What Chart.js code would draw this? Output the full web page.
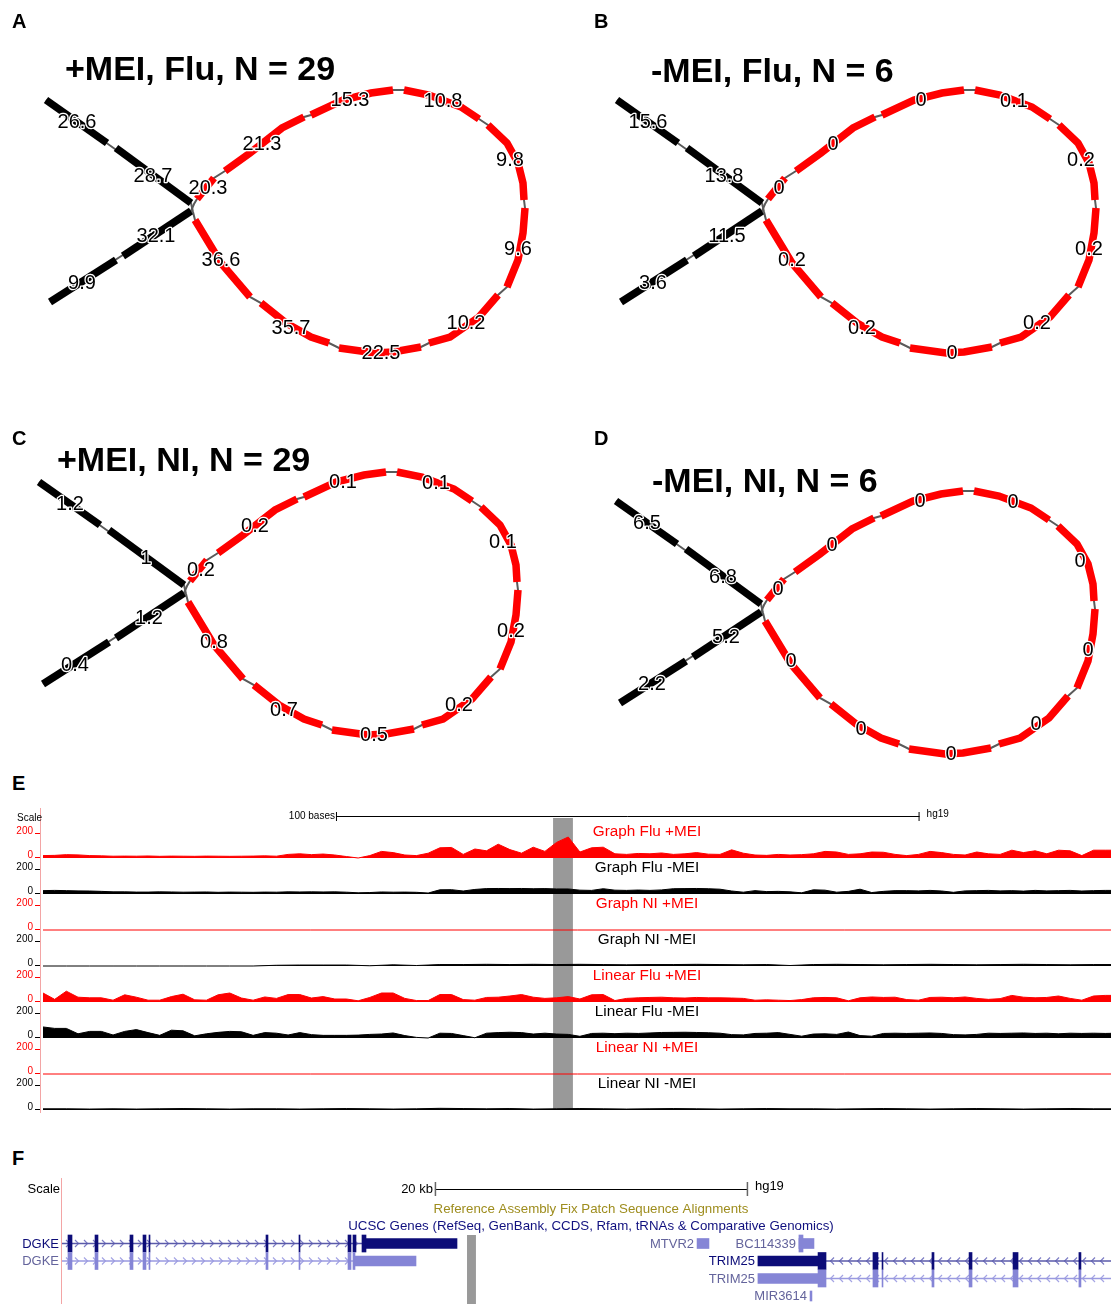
<!DOCTYPE html>
<html lang="en">
<head>
<meta charset="utf-8">
<title>MEI coverage graphs</title>
<script src="https://cdn.jsdelivr.net/npm/chart.js@4.4.1/dist/chart.umd.min.js"></script>
<style>
  html, body { margin:0; padding:0; background:#fff; overflow:hidden; }
  #page { position:relative; width:1111px; height:1304px; overflow:hidden; background:#fff;
          font-family:"Liberation Sans", Arial, Helvetica, sans-serif; color:#000; }
  #page canvas { position:absolute; }
  .letter { position:absolute; font-weight:bold; font-size:20px; line-height:20px; white-space:nowrap; }
  .ptitle { position:absolute; font-weight:bold; font-size:34px; line-height:34px; white-space:nowrap; }
</style>
</head>
<body>
<div id="page"></div>
<script>
// ===================== DATA =====================
// Panels A–D: titles and edge values (arms: upper-outer, upper-inner, lower-inner, lower-outer)
const panelLetters = ["A", "B", "C", "D"];
const panelTitles  = ["+MEI, Flu, N = 29", "-MEI, Flu, N = 6", "+MEI, NI, N = 29", "-MEI, NI, N = 6"];
const armValuesA  = [26.6, 28.7, 32.1, 9.9];
const loopValuesA = [20.3, 21.3, 15.3, 10.8, 9.8, 9.6, 10.2, 22.5, 35.7, 36.6];
const armValuesB  = [15.6, 13.8, 11.5, 3.6];
const loopValuesB = [0, 0, 0, 0.1, 0.2, 0.2, 0.2, 0, 0.2, 0.2];
const armValuesC  = [1.2, 1, 1.2, 0.4];
const loopValuesC = [0.2, 0.2, 0.1, 0.1, 0.1, 0.2, 0.2, 0.5, 0.7, 0.8];
const armValuesD  = [6.5, 6.8, 5.2, 2.2];
const loopValuesD = [0, 0, 0, 0, 0, 0, 0, 0, 0, 0];

// Graph layout (node coordinates in layout units, shared by the four panels)
const armSegs = [
  [[46,100],[107,143]],
  [[116,148],[191,203]],
  [[50,302],[116,260]],
  [[123,256],[191,211]]
];
const loopSegs = [
  [[197,199],[214,178]],
  [[225,171],[250,153],[282,128],[304,117]],
  [[311,115],[343,100],[371,93],[393,90]],
  [[404,90],[429,95],[461,107],[479,119]],
  [[488,125],[507,143],[518,163],[523,183],[524,200]],
  [[525,208],[523,233],[518,260],[507,287]],
  [[498,295],[479,317],[450,337],[429,343]],
  [[421,347],[393,352],[375,353],[339,348]],
  [[329,343],[311,337],[286,323],[261,303]],
  [[250,297],[221,263],[195,220]]
];
const upperArmPath = [[46,100],[191,203],[193,212],[195,220]];
const lowerArmPath = [[50,302],[191,211],[194,204],[197,199]];
const armLabelPos  = [[77,122],[153,176],[156,236],[82,283]];
const loopLabelPos = [[208,188],[262,144],[350,100],[443,101],[510,160],[518,249],[466,323],[381,353],[291,328],[221,260]];

// Panel E: coverage tracks (read-depth values, scale 0–200)
const trackNames = ["Graph Flu +MEI", "Graph Flu -MEI", "Graph NI +MEI", "Graph NI -MEI",
                    "Linear Flu +MEI", "Linear Flu -MEI", "Linear NI +MEI", "Linear NI -MEI"];
const trackIsPlus = [true, false, true, false, true, false, true, false];
const trackTicks = [0, 200];
const basesSpan = 184;                 // bases covered by each coverage array
const highlightBases = [87.4, 90.8];   // highlighted MEI position
const scaleBarBases = [50.2, 150.2];   // "100 bases" ruler
const covGraphFluPlus = [
  20,22,28,26,20,18,15,16,15,17,14,16,15,14,16,15,14,15,16,18,15,
  30,35,28,33,25,12,0,20,55,45,25,20,40,85,88,30,75,60,115,70,
  40,90,55,130,175,50,85,90,35,30,38,35,42,30,35,45,32,30,68,40,
  25,22,30,25,28,35,55,50,30,35,50,48,30,20,30,55,45,30,25,50,
  35,30,65,45,60,35,65,60,20,65,65,65];
const covGraphFluMinus = [
  28,30,28,26,25,22,18,18,16,16,18,17,15,16,17,14,16,15,14,16,15,
  18,17,18,17,18,15,10,12,17,15,16,14,8,35,36,25,38,45,46,45,
  46,44,45,42,42,32,30,44,32,30,33,30,34,44,45,46,44,40,25,15,
  28,20,22,18,10,35,32,15,22,40,12,22,28,28,26,30,25,14,26,28,
  30,26,28,24,30,26,28,30,25,28,30,30];
const covGraphNIPlus = [0, 0];
const covGraphNIMinus = [
  0,0,0,0,0,0,0,0,0,0,6,8,8,8,2,10,4,12,12,14,12,14,12,14,12,10,12,12,14,12,
  10,12,4,12,14,12,10,12,14,12,10,12,14,12,10,12,12];
const covLinearFluPlus = [
  75,22,90,40,35,35,15,60,40,15,15,45,65,18,15,60,75,33,15,42,30,
  62,62,33,45,25,25,10,38,75,75,30,12,12,62,62,20,15,38,40,50,
  62,40,30,35,45,25,60,62,12,30,35,38,40,35,33,38,35,35,33,30,
  15,18,15,12,20,35,38,35,10,35,42,38,40,20,15,38,40,35,42,30,
  22,28,55,40,35,38,50,30,15,50,55,55];
const covLinearFluMinus = [
  92,80,80,35,55,55,25,55,70,45,22,65,60,18,35,47,55,52,22,45,40,
  25,45,28,22,22,22,24,30,33,42,20,5,0,40,38,20,2,40,45,48,
  45,33,40,33,30,14,38,40,36,40,38,42,46,47,48,46,44,40,28,26,
  38,40,45,30,15,33,35,30,50,20,15,38,40,38,40,42,38,28,26,30,
  40,38,40,42,38,40,35,40,38,40,38,40];
const covLinearNIPlus = [0, 0];
const covLinearNIMinus = [
  10,10,8,10,8,10,12,10,8,10,10,8,10,12,10,8,10,14,12,10,12,8,10,12,10,8,10,12,10,8,
  10,12,10,10,8,10,12,10,8,10,12,10,8,10,12,10,10];

// Panel F: gene models (positions in kb from the left edge of the window)
const geneNames   = ["DGKE", "DGKE", "MTVR2", "BC114339", "TRIM25", "TRIM25", "MIR3614"];
const geneRows    = [0, 1, 0, 0, 1, 2, 3];
const geneStrand  = ["+", "+", "", "", "-", "-", ""];
const geneDark    = [true, false, false, false, true, false, false];
const geneIntrons = [[0, 19.17], [0, 18.72], null, null, [48.82, 67.5], [48.82, 67.5], null];
const dgkeExons1  = [[0.383,0.639],[2.109,2.300],[4.345,4.537],[5.176,5.367],[5.559,5.623],[13.035,13.163],
                     [15.144,15.208],[18.275,18.466],[18.594,18.786],[19.169,19.425]];
const dgkeExons2  = [[0.383,0.639],[2.109,2.300],[4.345,4.537],[5.176,5.367],[5.559,5.623],[13.035,13.163],
                     [15.144,15.208],[18.275,18.466],[18.594,18.722]];
const trimExons   = [[48.31,48.82],[51.82,52.14],[52.40,52.46],[55.59,55.72],[57.96,58.15],[60.77,61.09],[64.98,65.11]];
const geneExons   = [dgkeExons1, dgkeExons2, [], [[47.09,47.35]], trimExons, trimExons, []];
const geneUtrs    = [[[19.425,25.24]], [[18.72,22.62]], [[40.58,41.34]], [[47.09,48.05]],
                     [[44.47,48.31]], [[44.47,48.31]], [[47.80,47.92]]];
const fHighlightKb = [25.88, 26.45];
const fScaleBarKb  = [23.83, 43.83];
const fTrackTitles = ["Reference Assembly Fix Patch Sequence Alignments",
                      "UCSC Genes (RefSeq, GenBank, CCDS, Rfam, tRNAs & Comparative Genomics)"];

// ===================== LAYOUT / STYLE =====================
const FONT = '"Liberation Sans", Arial, Helvetica, sans-serif';
Chart.defaults.font.family = FONT;
const RED = '#ff0000';
const armValues  = [armValuesA, armValuesB, armValuesC, armValuesD];
const loopValues = [loopValuesA, loopValuesB, loopValuesC, loopValuesD];
const trackData  = [covGraphFluPlus, covGraphFluMinus, covGraphNIPlus, covGraphNIMinus,
                    covLinearFluPlus, covLinearFluMinus, covLinearNIPlus, covLinearNIMinus];
const panelPlacement = [[0,0],[571,0],[-7,382],[570,401]];
const titlePlacement = [[65,51],[651,53],[57,442],[652,463]];
const letterPlacement = [[12,11],[594,11],[12,428],[594,428],[12,773],[12,1148]];

const page = document.getElementById('page');
function addCanvas(left, top, w, h) {
  const c = document.createElement('canvas');
  c.width = w; c.height = h;
  c.style.left = left + 'px'; c.style.top = top + 'px';
  c.style.width = w + 'px'; c.style.height = h + 'px';
  page.appendChild(c);
  return c;
}
function addText(cls, txt, left, top) {
  const d = document.createElement('div');
  d.className = cls; d.textContent = txt;
  d.style.left = left + 'px'; d.style.top = top + 'px';
  page.appendChild(d);
}
const baseOptions = () => ({
  responsive: false, animation: false, events: [],
  plugins: { legend: { display: false }, tooltip: { enabled: false }, title: { display: false } }
});

// ===================== PANELS A–D =====================
function lineDs(pts, color, width, order) {
  return { type: 'line', data: pts.map(p => ({ x: p[0], y: p[1] })), showLine: true, fill: false,
    borderColor: color, backgroundColor: color, borderWidth: width, pointRadius: 0, pointHoverRadius: 0,
    tension: 0, borderCapStyle: 'butt', borderJoinStyle: 'miter', order };
}
function panelChart(idx) {
  const [left, top] = panelPlacement[idx];
  const canvas = addCanvas(left, top, 540, 390);
  const datasets = [];
  [upperArmPath, lowerArmPath, loopSegs.flat()].forEach(p => datasets.push(lineDs(p, '#5a5a5a', 2, 3)));
  armSegs.forEach(s => datasets.push(lineDs(s, '#000000', 7.5, 2)));
  loopSegs.forEach(s => datasets.push(lineDs(s, RED, 7.5, 1)));
  const labels = armValues[idx].map((v, i) => [String(v), armLabelPos[i]])
    .concat(loopValues[idx].map((v, i) => [String(v), loopLabelPos[i]]));
  const opts = baseOptions();
  opts.layout = { padding: 0 };
  opts.scales = {
    x: { type: 'linear', display: false, min: 0, max: 540, offset: false },
    y: { type: 'linear', display: false, min: 0, max: 390, reverse: true, offset: false }
  };
  new Chart(canvas, {
    type: 'scatter', data: { datasets }, options: opts,
    plugins: [{
      id: 'edgeLabels',
      afterDatasetsDraw(chart) {
        const { ctx } = chart, xs = chart.scales.x, ys = chart.scales.y;
        ctx.save();
        ctx.font = '20px ' + FONT;
        ctx.textAlign = 'center'; ctx.textBaseline = 'middle'; ctx.lineJoin = 'round';
        labels.forEach(([t, p]) => {
          const px = xs.getPixelForValue(p[0]), py = ys.getPixelForValue(p[1]);
          ctx.lineWidth = 2.5; ctx.strokeStyle = '#ffffff'; ctx.strokeText(t, px, py);
          ctx.fillStyle = '#000000'; ctx.fillText(t, px, py);
        });
        ctx.restore();
      }
    }]
  });
  addText('ptitle', panelTitles[idx], titlePlacement[idx][0], titlePlacement[idx][1]);
  addText('letter', panelLetters[idx], letterPlacement[idx][0], letterPlacement[idx][1]);
}
[0, 1, 2, 3].forEach(panelChart);

// ===================== PANEL E =====================
(function () {
  const canvas = addCanvas(0, 800, 1111, 315);
  const trackUnits = 300, nTracks = trackData.length;
  const scales = { x: { type: 'linear', display: false, min: 0, max: 183, offset: false } };
  const datasets = trackData.map((vals, k) => {
    const m = -(nTracks - 1 - k) * trackUnits;
    scales['y' + k] = { type: 'linear', display: false, min: m, max: m + nTracks * trackUnits, offset: false };
    const step = basesSpan / (vals.length - 1);
    const col = trackIsPlus[k] ? RED : '#000000';
    return { type: 'line', yAxisID: 'y' + k, data: vals.map((v, i) => ({ x: i * step, y: v })),
      borderColor: col, backgroundColor: col, borderWidth: 1, fill: 'origin',
      pointRadius: 0, pointHoverRadius: 0, tension: 0 };
  });
  const opts = baseOptions();
  opts.layout = { padding: { left: 43, right: 0, top: 22, bottom: 5 } };
  opts.scales = scales;
  new Chart(canvas, {
    type: 'line', data: { datasets }, options: opts,
    plugins: [{
      id: 'browserE',
      beforeDatasetsDraw(chart) {
        const { ctx, chartArea: a } = chart, xs = chart.scales.x;
        ctx.save();
        const h0 = xs.getPixelForValue(highlightBases[0]), h1 = xs.getPixelForValue(highlightBases[1]);
        ctx.fillStyle = '#999999';
        ctx.fillRect(h0, a.top - 4, h1 - h0, a.bottom - a.top + 4);
        ctx.strokeStyle = '#f3a5a5'; ctx.lineWidth = 1;
        ctx.beginPath(); ctx.moveTo(a.left - 2.5, a.top - 14); ctx.lineTo(a.left - 2.5, a.bottom + 3); ctx.stroke();
        ctx.restore();
      },
      afterDatasetsDraw(chart) {
        const { ctx, chartArea: a } = chart, xs = chart.scales.x;
        ctx.save();
        // ruler
        ctx.fillStyle = '#000'; ctx.strokeStyle = '#000'; ctx.lineWidth = 1;
        ctx.font = '10px ' + FONT; ctx.textBaseline = 'middle';
        ctx.textAlign = 'right'; ctx.fillText('Scale', a.left - 1, a.top - 4);
        const s0 = xs.getPixelForValue(scaleBarBases[0]), s1 = xs.getPixelForValue(scaleBarBases[1]);
        const ry = a.top - 5.5;
        ctx.beginPath();
        ctx.moveTo(s0, ry); ctx.lineTo(s1, ry);
        ctx.moveTo(s0 + 0.5, ry - 4.5); ctx.lineTo(s0 + 0.5, ry + 4.5);
        ctx.moveTo(s1 - 0.5, ry - 4.5); ctx.lineTo(s1 - 0.5, ry + 4.5);
        ctx.stroke();
        ctx.fillText('100 bases', s0 - 1, ry);
        ctx.textAlign = 'left'; ctx.fillText('hg19', s1 + 7, ry - 2);
        // track ticks and names
        trackData.forEach((_, k) => {
          const ys = chart.scales['y' + k];
          const col = trackIsPlus[k] ? RED : '#000000';
          ctx.fillStyle = col; ctx.strokeStyle = col;
          ctx.font = '10px ' + FONT; ctx.textAlign = 'right'; ctx.textBaseline = 'alphabetic';
          trackTicks.forEach(t => {
            const py = Math.round(ys.getPixelForValue(t)) - 0.5;
            ctx.fillText(String(t), a.left - 10, py + 0.5);
            ctx.beginPath(); ctx.moveTo(a.left - 8, py); ctx.lineTo(a.left - 3, py); ctx.stroke();
          });
          ctx.font = '15.3px ' + FONT; ctx.textAlign = 'center'; ctx.textBaseline = 'middle';
          ctx.fillText(trackNames[k], xs.getPixelForValue(103.5), ys.getPixelForValue(215));
        });
        ctx.restore();
      }
    }]
  });
  addText('letter', 'E', letterPlacement[4][0], letterPlacement[4][1]);
})();

// ===================== PANEL F =====================
(function () {
  const canvas = addCanvas(0, 1170, 1111, 134);
  const DARK = '#0c0c78', LIGHT = '#8585d6';
  const bar = (color, thick) => ({ type: 'bar', indexAxis: 'y', grouped: false, barThickness: thick,
    backgroundColor: color, borderWidth: 0, order: 1, data: [] });
  const tallDark = bar(DARK, 17), tallLight = bar(LIGHT, 17), utrDark = bar(DARK, 10), utrLight = bar(LIGHT, 10);
  const introns = [];
  geneNames.forEach((n, g) => {
    const row = geneRows[g];
    geneExons[g].forEach(e => (geneDark[g] ? tallDark : tallLight).data.push({ x: [e[0], e[1]], y: row }));
    geneUtrs[g].forEach(e => (geneDark[g] ? utrDark : utrLight).data.push({ x: [e[0], e[1]], y: row }));
    if (geneIntrons[g]) {
      introns.push({ type: 'line', data: [{ x: geneIntrons[g][0], y: row }, { x: geneIntrons[g][1], y: row }],
        borderColor: geneDark[g] ? '#5a5aaa' : '#9a9ae0', borderWidth: 1.5, pointRadius: 0,
        pointHoverRadius: 0, fill: false, tension: 0, order: 2 });
    }
  });
  const opts = baseOptions();
  opts.layout = { padding: { left: 62, right: 0, top: 0, bottom: 0 } };
  opts.scales = {
    x: { type: 'linear', display: false, min: 0, max: 67.03, offset: false },
    y: { type: 'linear', display: false, min: -4.2, max: 3.457, reverse: true, offset: false }
  };
  new Chart(canvas, {
    type: 'bar', data: { datasets: introns.concat([utrLight, utrDark, tallLight, tallDark]) }, options: opts,
    plugins: [{
      id: 'browserF',
      beforeDatasetsDraw(chart) {
        const { ctx, chartArea: a } = chart, xs = chart.scales.x, ys = chart.scales.y;
        ctx.save();
        const h0 = xs.getPixelForValue(fHighlightKb[0]), h1 = xs.getPixelForValue(fHighlightKb[1]);
        const ht = ys.getPixelForValue(-0.486);
        ctx.fillStyle = '#999999'; ctx.fillRect(h0, ht, h1 - h0, a.bottom - ht);
        ctx.strokeStyle = '#f3a5a5'; ctx.lineWidth = 1;
        ctx.beginPath(); ctx.moveTo(a.left - 0.5, ys.getPixelForValue(-3.74)); ctx.lineTo(a.left - 0.5, a.bottom); ctx.stroke();
        // strand chevrons
        ctx.beginPath(); ctx.rect(a.left, a.top, a.right - a.left, a.bottom - a.top); ctx.clip();
        geneNames.forEach((n, g) => {
          if (!geneIntrons[g]) return;
          const x0 = Math.max(xs.getPixelForValue(geneIntrons[g][0]), a.left);
          const x1 = Math.min(xs.getPixelForValue(geneIntrons[g][1]), a.right);
          const cy = ys.getPixelForValue(geneRows[g]);
          const dir = geneStrand[g] === '-' ? -1 : 1;
          ctx.strokeStyle = geneDark[g] ? '#7c7cc4' : '#a4a4e4'; ctx.lineWidth = 1.2;
          ctx.beginPath();
          for (let cx = x0 + 6; cx < x1 - 2; cx += 9) {
            ctx.moveTo(cx - 2 * dir, cy - 3.5); ctx.lineTo(cx + 1.5 * dir, cy); ctx.lineTo(cx - 2 * dir, cy + 3.5);
          }
          ctx.stroke();
        });
        ctx.restore();
      },
      afterDatasetsDraw(chart) {
        const { ctx, chartArea: a } = chart, xs = chart.scales.x, ys = chart.scales.y;
        ctx.save();
        ctx.font = '13px ' + FONT; ctx.textBaseline = 'middle'; ctx.fillStyle = '#000'; ctx.strokeStyle = '#000';
        const sy = ys.getPixelForValue(-3.114);
        ctx.textAlign = 'right'; ctx.fillText('Scale', a.left - 2, sy);
        const s0 = xs.getPixelForValue(fScaleBarKb[0]), s1 = xs.getPixelForValue(fScaleBarKb[1]);
        ctx.fillText('20 kb', s0 - 2, sy);
        ctx.lineWidth = 1;
        ctx.beginPath(); ctx.moveTo(s0, Math.round(sy) + 0.5); ctx.lineTo(s1, Math.round(sy) + 0.5); ctx.stroke();
        ctx.strokeStyle = '#666'; ctx.lineWidth = 1.5;
        ctx.beginPath();
        ctx.moveTo(s0 + 0.5, sy - 7); ctx.lineTo(s0 + 0.5, sy + 7);
        ctx.moveTo(s1 - 0.5, sy - 7); ctx.lineTo(s1 - 0.5, sy + 7);
        ctx.stroke();
        ctx.textAlign = 'left'; ctx.fillStyle = '#000'; ctx.fillText('hg19', s1 + 7, ys.getPixelForValue(-3.29));
        ctx.textAlign = 'center';
        ctx.font = '13.3px ' + FONT;
        ctx.fillStyle = '#9e8d1e'; ctx.fillText(fTrackTitles[0], xs.getPixelForValue(33.8), ys.getPixelForValue(-1.971));
        ctx.fillStyle = '#10107f'; ctx.fillText(fTrackTitles[1], xs.getPixelForValue(33.8), ys.getPixelForValue(-1.0));
        ctx.font = '13px ' + FONT;
        ctx.textAlign = 'right';
        geneNames.forEach((n, g) => {
          let start = Infinity;
          geneExons[g].concat(geneUtrs[g]).forEach(e => { start = Math.min(start, e[0]); });
          if (geneIntrons[g]) start = Math.min(start, geneIntrons[g][0]);
          const px = Math.max(xs.getPixelForValue(start), a.left) - 3;
          ctx.fillStyle = geneDark[g] ? '#0c0c78' : '#64649c';
          ctx.fillText(n, px, ys.getPixelForValue(geneRows[g]) + 0.5);
        });
        ctx.restore();
      }
    }]
  });
  addText('letter', 'F', letterPlacement[5][0], letterPlacement[5][1]);
})();
</script>
</body>
</html>
